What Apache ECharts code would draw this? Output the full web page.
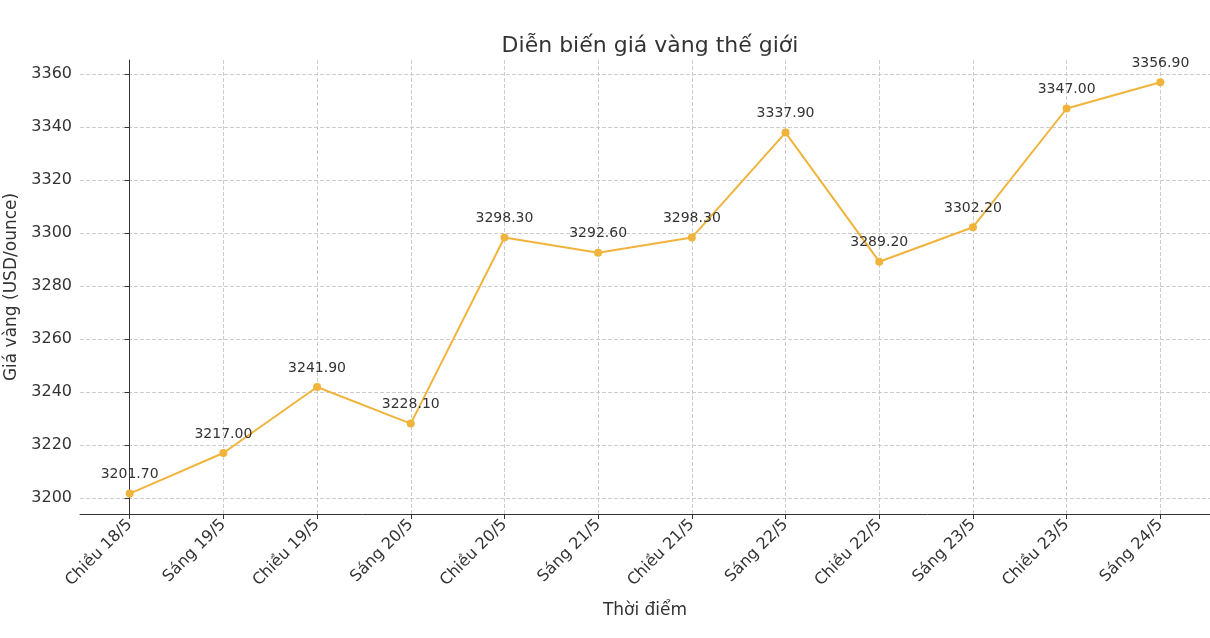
<!DOCTYPE html>
<html>
<head>
<meta charset="utf-8">
<script src="https://cdn.jsdelivr.net/npm/echarts@6/dist/echarts.min.js"></script>
<style>html,body{margin:0;padding:0;background:#fff}#chart{width:1210px;height:638px}</style>
</head>
<body>
<div id="chart"></div>
<script>
var categories = ['Chiều 18/5', 'Sáng 19/5', 'Chiều 19/5', 'Sáng 20/5', 'Chiều 20/5', 'Sáng 21/5',
    'Chiều 21/5', 'Sáng 22/5', 'Chiều 22/5', 'Sáng 23/5', 'Chiều 23/5', 'Sáng 24/5'];
var prices = [3201.70, 3217.00, 3241.90, 3228.10, 3298.30, 3292.60, 3298.30, 3337.90, 3289.20, 3302.20, 3347.00, 3356.90];
var yTicks = [3200, 3220, 3240, 3260, 3280, 3300, 3320, 3340, 3360];

var font = 'DejaVu Sans';
var xTicks = categories.map(function(c, i) { return i; });
var points = prices.map(function(v, i) { return [i, v]; });

var myChart = echarts.init(document.getElementById('chart'));
var option = {
    animation: false,
    textStyle: {fontFamily: font},
    title: {
        text: 'Diễn biến giá vàng thế giới',
        left: 645, top: 30, textAlign: 'center',
        textStyle: {fontFamily: font, fontSize: 22, fontWeight: 'normal', color: '#333'}
    },
    grid: {left: 80, right: 0, top: 60, bottom: 124, outerBoundsMode: 'none', containLabel: false},
    xAxis: {
        type: 'value',
        min: -0.53, max: 11.53,
        name: 'Thời điểm', nameLocation: 'middle', nameGap: 88,
        nameTextStyle: {fontSize: 17, color: '#333'},
        axisLine: {lineStyle: {color: '#333'}},
        axisTick: {show: true, customValues: xTicks, lineStyle: {color: '#333'}},
        axisLabel: {rotate: 45, fontSize: 16, color: '#333', customValues: xTicks,
            formatter: function(v) { return categories[Math.round(v)]; }},
        splitLine: {show: true, lineStyle: {type: 'dashed', color: '#ccc'}}
    },
    yAxis: {
        type: 'value',
        min: 3194, max: 3365.3,
        name: 'Giá vàng (USD/ounce)', nameLocation: 'middle', nameGap: 52,
        nameTextStyle: {fontSize: 17, color: '#333'},
        axisLine: {show: true, lineStyle: {color: '#333'}},
        axisTick: {show: true, customValues: yTicks, lineStyle: {color: '#333'}},
        axisLabel: {fontSize: 16, color: '#333', customValues: yTicks,
            formatter: function(v) { return String(v); }},
        splitLine: {show: true, lineStyle: {type: 'dashed', color: '#ccc'}}
    },
    series: [{
        type: 'line',
        data: points,
        symbol: 'circle', symbolSize: 8,
        itemStyle: {color: '#f0b43c'},
        lineStyle: {color: '#f0b43c', width: 2},
        label: {show: true, position: 'top', distance: 8, fontSize: 14, color: '#333',
            formatter: function(p) { return p.value[1].toFixed(2); }}
    }]
};
myChart.setOption(option);
</script>
</body>
</html>
